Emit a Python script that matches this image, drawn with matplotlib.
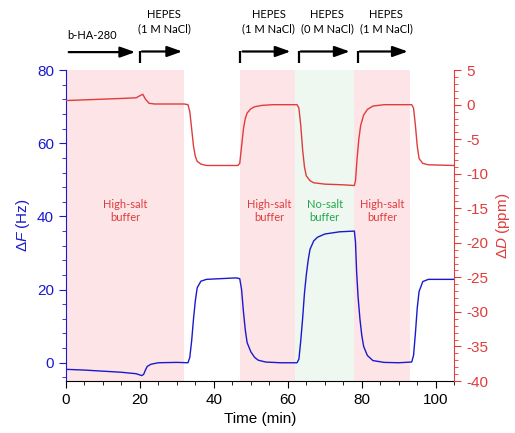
import matplotlib
matplotlib.use("Agg")
import matplotlib.pyplot as plt
from matplotlib.ticker import MultipleLocator
import matplotlib.transforms as mtransforms

plt.rcParams["font.family"] = ["Liberation Sans", "DejaVu Sans"]
plt.rcParams["axes.unicode_minus"] = False
plt.rcParams["mathtext.fontset"] = "custom"
plt.rcParams["mathtext.rm"] = "Liberation Sans"
plt.rcParams["mathtext.it"] = "Liberation Sans:italic"

BLUE = "#1a1acc"
RED = "#e03c3c"
PINK = "#fde4e7"
GREEN = "#eef8f0"
TEXT_GREEN = "#22a84a"

# dissipation trace (right axis), time in min
d_time = [0, 5, 10, 15, 19, 20, 20.8, 21.5, 22.5, 24, 28, 32,
          33, 33.5, 34, 34.5, 35, 35.5, 36.5, 38, 42, 46.5,
          47, 47.5, 48, 48.5, 49, 50, 51, 53, 56, 60, 62.5,
          63, 63.5, 64, 64.5, 65, 66, 67, 70, 75, 78,
          78.3, 78.7, 79.2, 79.7, 80.5, 81.5, 83, 86, 90, 93.5,
          94, 94.5, 95, 95.5, 96.5, 98, 105]
d_ppm = [0.6, 0.7, 0.8, 0.9, 1.0, 1.3, 1.5, 0.8, 0.2, 0.1, 0.1, 0.1,
         0.0, -1.0, -3.5, -6.0, -7.5, -8.2, -8.6, -8.8, -8.8, -8.8,
         -8.5, -6.0, -3.5, -2.0, -1.2, -0.6, -0.3, -0.1, 0.0, 0.0, 0.0,
         -0.5, -3.0, -6.5, -9.0, -10.3, -11.0, -11.3, -11.5, -11.6, -11.7,
         -11.0, -8.0, -5.0, -3.0, -1.5, -0.7, -0.2, 0.0, 0.0, 0.0,
         -0.5, -3.0, -6.0, -7.8, -8.5, -8.7, -8.8]

# frequency trace (left axis)
f_time = [0, 5, 10, 15, 19, 20.5, 21, 21.5, 22, 23, 25, 30,
          33, 33.5, 34, 34.5, 35, 35.5, 36.5, 38, 42, 46,
          47, 47.5, 48, 48.5, 49, 50, 51, 52, 54, 58, 62.5,
          63, 63.5, 64, 64.5, 65, 65.5, 66, 67, 68, 70, 74, 78,
          78.3, 78.6, 79, 79.5, 80, 80.5, 81.5, 83, 86, 90, 93.5,
          94, 94.5, 95, 95.5, 96.5, 98, 105]
f_hz = [-1.8, -2.0, -2.3, -2.6, -3.0, -3.5, -3.2, -2.0, -1.0, -0.4, 0.0, 0.1,
        0.0, 1.5, 6.0, 12.0, 17.0, 20.5, 22.3, 22.8, 23.0, 23.2,
        23.0, 20.0, 14.0, 9.0, 5.5, 3.0, 1.5, 0.7, 0.2, 0.0, 0.0,
        1.0, 6.0, 12.0, 19.0, 24.0, 28.0, 31.0, 33.3, 34.3, 35.2, 35.8, 36.0,
        33.0, 25.0, 18.0, 12.0, 7.5, 4.5, 2.0, 0.6, 0.1, 0.0, 0.2,
        2.0, 8.0, 15.0, 19.5, 22.2, 22.8, 22.8]

# buffer regions: (start, end, kind)
regions = [(0, 32, "high"), (47, 62, "high"), (62, 78, "none"), (78, 93, "high")]
region_labels = [(16, "High-salt\nbuffer", RED), (55, "High-salt\nbuffer", RED),
                 (70, "No-salt\nbuffer", TEXT_GREEN), (85.5, "High-salt\nbuffer", RED)]

# injection arrows: (start, end, label)
injections = [(20, 32.2, "HEPES\n(1 M NaCl)"), (47.2, 61.5, "HEPES\n(1 M NaCl)"),
              (62.9, 77.5, "HEPES\n(0 M NaCl)"), (78.9, 93.2, "HEPES\n(1 M NaCl)")]

fig = plt.figure(figsize=(5.15, 4.33), dpi=100)
ax = fig.add_axes([0.128, 0.12, 0.754, 0.718])
ax2 = ax.twinx()

for x0, x1, kind in regions:
    ax.axvspan(x0, x1, color=PINK if kind == "high" else GREEN, lw=0, zorder=0)

for x, txt, col in region_labels:
    ax.text(x, 41.5, txt, color=col, fontsize=8, ha="center", va="center",
            family=["Lato", "DejaVu Sans"], linespacing=1.3)

ax.plot(f_time, f_hz, color=BLUE, lw=1.0)
ax2.plot(d_time, d_ppm, color=RED, lw=1.0)

ax.set_xlim(0, 105)
ax.set_ylim(-5, 80)
ax2.set_ylim(-40, 5)

ax.xaxis.set_major_locator(MultipleLocator(20))
ax.xaxis.set_minor_locator(MultipleLocator(5))
ax.yaxis.set_major_locator(MultipleLocator(20))
ax.yaxis.set_minor_locator(MultipleLocator(4))
ax2.yaxis.set_major_locator(MultipleLocator(5))
ax2.yaxis.set_minor_locator(MultipleLocator(1))

for a in (ax, ax2):
    a.spines["top"].set_visible(False)
ax.spines["left"].set_color(BLUE)
ax.spines["right"].set_visible(False)
ax2.spines["left"].set_visible(False)
ax2.spines["right"].set_color(RED)
ax2.spines["bottom"].set_visible(False)

ax.tick_params(axis="y", which="both", colors=BLUE, labelsize=11)
ax.tick_params(axis="y", which="major", length=5)
ax.tick_params(axis="y", which="minor", length=3)
ax.tick_params(axis="x", which="major", length=5, labelsize=11)
ax.tick_params(axis="x", which="minor", length=3)
ax2.tick_params(axis="y", which="both", colors=RED, labelsize=11)
ax2.tick_params(axis="y", which="major", length=5)
ax2.tick_params(axis="y", which="minor", length=3)

ax.set_xlabel("Time (min)", fontsize=11)
ax.set_ylabel(r"$\Delta\it{F}$ (Hz)", color=BLUE, fontsize=11, labelpad=4)
ax2.set_ylabel(r"$\Delta\it{D}$ (ppm)", color=RED, fontsize=11, labelpad=4)

# arrows above the plot
trans = mtransforms.blended_transform_factory(ax.transData, ax.transAxes)
arrow_kw = dict(arrowstyle="-|>,head_length=0.9,head_width=0.32", color="black", lw=1.6)
ax.annotate("", xy=(19.5, 1.058), xytext=(0, 1.058), xycoords=trans,
            textcoords=trans, arrowprops=arrow_kw, annotation_clip=False)
ax.text(7, 1.11, "b-HA-280", transform=trans, ha="center", va="center",
        fontsize=8, family=["Lato", "DejaVu Sans"])
for x0, x1, label in injections:
    ax.plot([x0, x0], [1.022, 1.062], transform=trans, color="black", lw=1.6,
            clip_on=False, solid_capstyle="butt")
    ax.annotate("", xy=(x1, 1.06), xytext=(x0 - 0.2, 1.06), xycoords=trans,
                textcoords=trans, arrowprops=arrow_kw, annotation_clip=False)
    ax.text((x0 + x1) / 2 + 0.5, 1.155, label, transform=trans, ha="center",
            va="center", fontsize=8, family=["Lato", "DejaVu Sans"], linespacing=1.4)

fig.savefig("out.png", dpi=100)
